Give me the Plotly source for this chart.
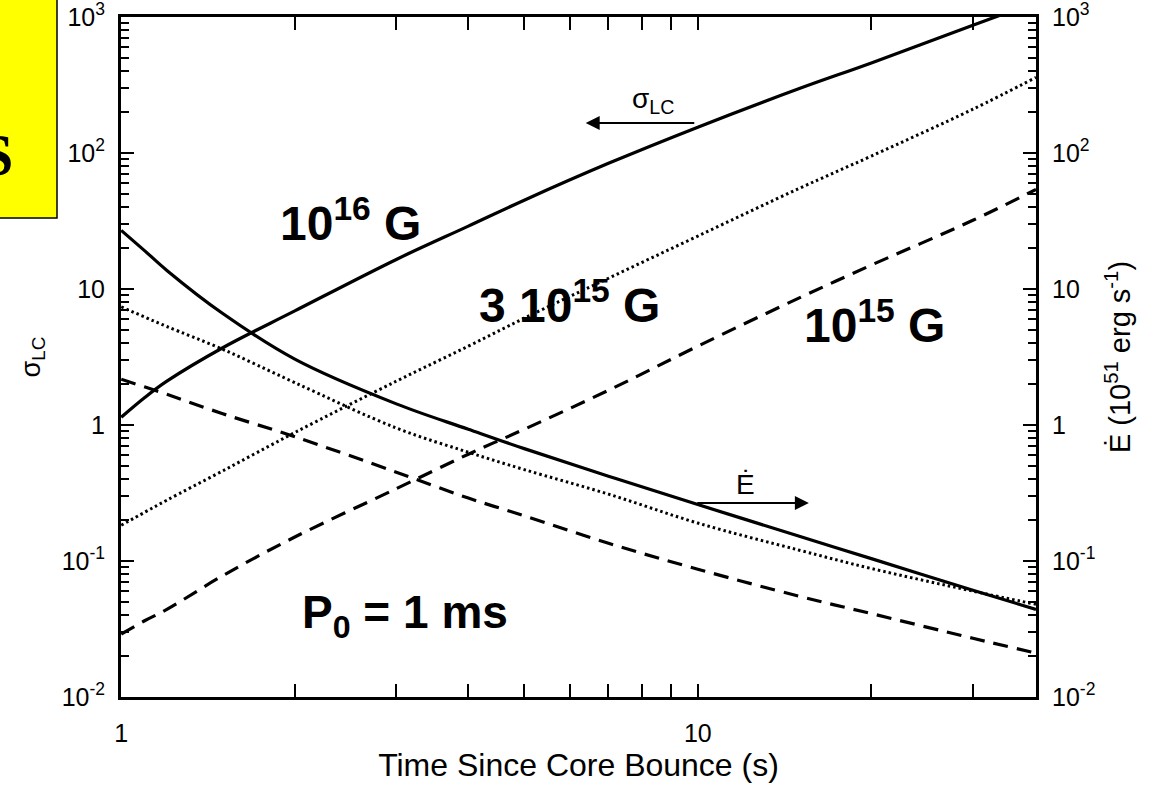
import numpy as np
import plotly.graph_objects as go

# ---- data ----
t = [1, 1.1, 1.2, 1.5, 2, 3, 4, 5, 7, 10, 15, 20, 30, 38.6]

sigma_1e16 = [1.14, 1.6, 2.1, 3.7, 6.9, 16.5, 29, 45, 84, 155, 298, 460, 870, 1290]
edot_1e16 = [27, 19, 13.7, 6.6, 3.05, 1.43, 0.93, 0.67, 0.42, 0.26, 0.152, 0.104, 0.061, 0.044]

sigma_3e15 = [0.183, 0.229, 0.28, 0.46, 0.88, 2.1, 3.8, 6.1, 12, 24.5, 55, 95, 210, 360]
edot_3e15 = [7.4, 6.2, 5.3, 3.6, 2.05, 0.95, 0.63, 0.47, 0.31, 0.19, 0.12, 0.088, 0.060, 0.048]

sigma_1e15 = [0.029, 0.0365, 0.044, 0.078, 0.15, 0.34, 0.61, 0.93, 1.8, 3.8, 8.6, 15, 32, 54]
edot_1e15 = [2.17, 1.9, 1.68, 1.21, 0.82, 0.45, 0.29, 0.215, 0.135, 0.087, 0.055, 0.041, 0.027, 0.021]

x_range_log = [-0.0004, 1.5866]     # 1 .. ~38.6 s
y_range_log = [-2.0004, 3.0004]     # 1e-2 .. 1e3
y_tickvals = [0.01, 0.1, 1, 10, 100, 1000]
y_ticktext = ["10<sup>-2</sup>", "10<sup>-1</sup>", "1", "10", "10<sup>2</sup>", "10<sup>3</sup>"]
x_tickvals = [1, 10]
x_ticktext = ["1", "10"]

FONT = "Liberation Sans, Arial, Helvetica, sans-serif"

fig = go.Figure()

styles = [
    (sigma_1e16, "solid", 3.2),
    (edot_1e16, "solid", 3.2),
    (sigma_3e15, "2.5px,3px", 3),
    (edot_3e15, "2.5px,3px", 3),
    (sigma_1e15, "15px,9px", 3.2),
    (edot_1e15, "15px,9px", 3.2),
]
for ys, dash, w in styles:
    fig.add_trace(go.Scatter(x=t, y=ys, mode="lines",
                             line=dict(color="black", width=w, dash=dash, shape="spline", smoothing=1.0),
                             showlegend=False, hoverinfo="skip"))

# dummy trace for right axis
fig.add_trace(go.Scatter(x=[t[0]], y=[1], yaxis="y2", mode="markers", marker=dict(opacity=0),
                         showlegend=False, hoverinfo="skip"))

axis_common = dict(
    type="log", showgrid=False, zeroline=False, showline=True, linecolor="black", linewidth=3,
    ticks="inside", ticklen=13, tickwidth=2, tickcolor="black",
    tickfont=dict(family=FONT, size=25, color="black"),
    ticklabeloverflow="allow", automargin=False,
)

fig.update_layout(
    width=1161, height=786,
    margin=dict(l=121, r=125, t=17, b=89, autoexpand=False),
    paper_bgcolor="white", plot_bgcolor="white",
    xaxis=dict(**axis_common, range=x_range_log,
               tickvals=x_tickvals, ticktext=x_ticktext, mirror="allticks",
               ticklabelstandoff=12,
               minor=dict(ticks="inside", ticklen=8, tickwidth=2, tickcolor="black",
                          tickvals=[2, 3, 4, 5, 6, 7, 8, 9, 20, 30]),
               title=dict(text="Time Since Core Bounce (s)", font=dict(family=FONT, size=32, color="black"),
                          standoff=5)),
    yaxis=dict(**axis_common, range=y_range_log,
               tickvals=y_tickvals, ticktext=y_ticktext, mirror=False, ticklabelstandoff=8,
               minor=dict(ticks="inside", ticklen=8, tickwidth=2, tickcolor="black", dtick="D1"),
               title=dict(text="σ<sub>LC</sub>", font=dict(family=FONT, size=27, color="black"), standoff=14)),
    yaxis2=dict(**axis_common, range=y_range_log,
                overlaying="y", side="right",
                tickvals=y_tickvals, ticktext=y_ticktext, ticklabelstandoff=8,
                minor=dict(ticks="inside", ticklen=8, tickwidth=2, tickcolor="black", dtick="D1"),
                title=dict(text="Ė (10<sup>51</sup> erg s<sup>-1</sup>)", font=dict(family=FONT, size=29, color="black"),
                           standoff=16)),
)

annots = [
    dict(x=0.3976, y=1.507, text="<b>10<sup>16</sup> G</b>", size=48),
    dict(x=0.778, y=0.904, text="<b>3 10<sup>15</sup> G</b>", size=48),
    dict(x=1.307, y=0.757, text="<b>10<sup>15</sup> G</b>", size=48),
    dict(x=0.493, y=-1.40, text="<b>P<sub>0</sub> = 1 ms</b>", size=46),
    dict(x=0.922, y=2.39, text="σ<sub>LC</sub>", size=28),
    dict(x=1.083, y=-0.44, text="Ė", size=28),
]
for a in annots:
    fig.add_annotation(x=a["x"], y=a["y"], xref="x", yref="y", text=a["text"], showarrow=False,
                       font=dict(family=FONT, size=a["size"], color="black"), xanchor="center", yanchor="middle")

# arrows
fig.add_annotation(x=0.8056, y=2.22, ax=0.9965, ay=2.22, xref="x", yref="y", axref="x", ayref="y",
                   text="", showarrow=True, arrowhead=2, arrowsize=1.4, arrowwidth=2, arrowcolor="black")
fig.add_annotation(x=1.1927, y=-0.5735, ax=0.9965, ay=-0.5735, xref="x", yref="y", axref="x", ayref="y",
                   text="", showarrow=True, arrowhead=2, arrowsize=1.4, arrowwidth=2, arrowcolor="black")

# yellow box at top-left
fig.add_shape(type="rect", xref="paper", yref="paper", x0=-0.2, x1=(57 - 121) / 915, y0=(697 - 218) / 680, y1=1.1,
              fillcolor="#ffff00", line=dict(color="black", width=1.5), layer="above")
fig.add_annotation(xref="paper", yref="paper", x=(15 - 121) / 915, y=(697 - 155) / 680, text="<b>S</b>",
                   showarrow=False, xanchor="right", yanchor="middle",
                   font=dict(family="Liberation Serif, DejaVu Serif, serif", size=60, color="black"))

fig.write_html("out.html")
